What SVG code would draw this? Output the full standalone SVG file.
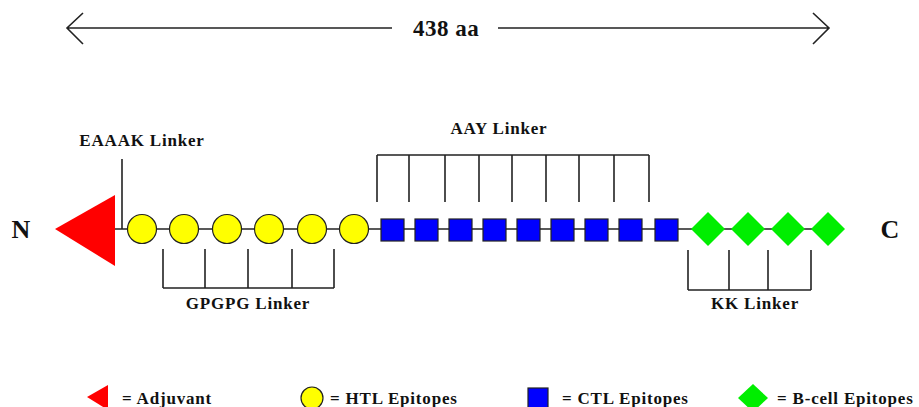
<svg xmlns="http://www.w3.org/2000/svg" width="919" height="407" viewBox="0 0 919 407">
<style>
.t{font-family:"Liberation Serif","Times New Roman",serif;font-weight:bold;fill:#111}
.lab{font-size:17px;letter-spacing:0.8px}
.ln{stroke:#222;stroke-width:1.6;fill:none}
.hl{fill:#ffff00;stroke:#222;stroke-width:1.2}
.ctl{fill:#0000ff;stroke:#222;stroke-width:1.2}
.bc{fill:#00ee00}
.adj{fill:#ff0000}
</style>
<rect width="919" height="407" fill="#fff"/>
<g id="length">
<path class="ln" d="M67,28 H392 M498,28 H829 M83,13 L67,28 L83,44 M813,13 L829,28 L813,44"/>
<text class="t" x="446" y="36" font-size="23" text-anchor="middle" letter-spacing="0.5">438 aa</text>
</g>
<g id="connectors">
<path class="ln" d="M112,229 H840"/>
<path class="ln" d="M122,159 V229"/>
<path class="ln" d="M163,249 V288 M205,249 V288 M248,249 V288 M292,249 V288 M334,249 V288 M163,288 H334"/>
<path class="ln" d="M377,155 V202 M409,155 V202 M445,155 V202 M479,155 V202 M512,155 V202 M546,155 V202 M579,155 V202 M614,155 V202 M649,155 V202 M377,155 H649"/>
<path class="ln" d="M688,250 V290 M729,250 V290 M768,250 V290 M811,250 V290 M688,290 H811"/>
</g>
<g id="termini">
<text class="t" x="21" y="238" font-size="26" text-anchor="middle">N</text>
<text class="t" x="890" y="238" font-size="26" text-anchor="middle">C</text>
</g>
<g id="adjuvant"><polygon class="adj" points="55,229 115,195 115,266"/></g>
<g id="htl">
<circle class="hl" cx="142" cy="229" r="14.5"/>
<circle class="hl" cx="184" cy="229" r="14.5"/>
<circle class="hl" cx="227" cy="229" r="14.5"/>
<circle class="hl" cx="269" cy="229" r="14.5"/>
<circle class="hl" cx="312" cy="229" r="14.5"/>
<circle class="hl" cx="354" cy="229" r="14.5"/>
</g>
<g id="ctl">
<rect class="ctl" x="381" y="219" width="23" height="22"/>
<rect class="ctl" x="415" y="219" width="23" height="22"/>
<rect class="ctl" x="449" y="219" width="23" height="22"/>
<rect class="ctl" x="483" y="219" width="23" height="22"/>
<rect class="ctl" x="517" y="219" width="23" height="22"/>
<rect class="ctl" x="551" y="219" width="23" height="22"/>
<rect class="ctl" x="585" y="219" width="23" height="22"/>
<rect class="ctl" x="619" y="219" width="23" height="22"/>
<rect class="ctl" x="655" y="219" width="23" height="22"/>
</g>
<g id="bcell">
<polygon class="bc" points="691,229 708,212 725,229 708,246"/>
<polygon class="bc" points="731,229 748,212 765,229 748,246"/>
<polygon class="bc" points="771,229 788,212 805,229 788,246"/>
<polygon class="bc" points="811,229 828,212 845,229 828,246"/>
</g>
<g id="labels">
<text class="t lab" x="142" y="146" text-anchor="middle">EAAAK Linker</text>
<text class="t lab" x="499" y="134" text-anchor="middle">AAY Linker</text>
<text class="t lab" x="248" y="309" text-anchor="middle">GPGPG Linker</text>
<text class="t lab" x="755" y="309" text-anchor="middle">KK Linker</text>
</g>
<g id="legend">
<polygon class="adj" points="87,397 108,385 108,410"/>
<text class="t lab" x="122" y="404">= Adjuvant</text>
<circle class="hl" cx="312" cy="398" r="11"/>
<text class="t lab" x="330" y="404">= HTL Epitopes</text>
<rect class="ctl" x="528" y="388" width="20" height="22"/>
<text class="t lab" x="562" y="404">= CTL Epitopes</text>
<polygon class="bc" points="738,398 753,384 768,398 753,412"/>
<text class="t lab" x="777" y="404">= B-cell Epitopes</text>
</g>
</svg>
